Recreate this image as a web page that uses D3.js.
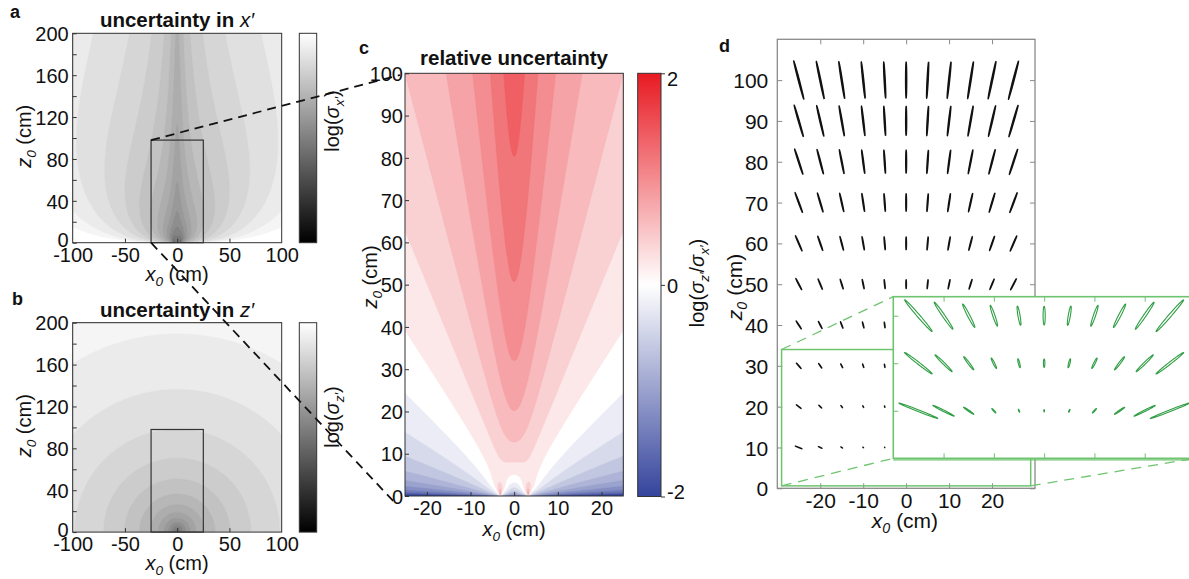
<!DOCTYPE html>
<html><head><meta charset="utf-8">
<script src="https://cdn.jsdelivr.net/npm/d3@7"></script>
<style>
body{margin:0;background:#fff}
svg{display:block}
text{font-family:"Liberation Sans",Arial,Helvetica,sans-serif;fill:#111}
</style>
</head><body>
<svg id="fig" width="1189" height="579"></svg>
<script>
// ---------------- data ----------------
const eyeX = [-3.2, 3.2];                 // eye positions (cm) on the z=0 line
const levelsAB = [-0.945,-0.66,-0.375,-0.09,0.195,0.48,0.765,1.05,1.335,1.62,1.905,2.19,2.475,2.76,3.045,3.33,3.615,3.90,4.185,4.47,4.755,5.04,5.325];
const levelsC = [-2,-1.8,-1.6,-1.4,-1.2,-1,-0.8,-0.6,-0.4,-0.2,0,0.2,0.4,0.6,0.8,1,1.2,1.4,1.6,1.8];
const grayDomain = [-2.9, 4.18];
const ratioDomain = [-2, 0, 2];
const ratioColors = ["#34449c", "#ffffff", "#e81a22"];
const rectAB = {x0:-25, x1:25, z0:0, z1:98};
const ticksABx = [-100,-50,0,50,100];
const ticksABxMarks = [-50,0,50];
const ticksABy = [0,20,40,60,80,100,120,140,160,180,200];
const labelsABy = [0,40,80,120,160,200];
const ticksCx = [-20,-10,0,10,20];
const ticksCy = [0,10,20,30,40,50,60,70,80,90,100];
const ticksCbar = [-2,0,2];
const ticksDx = [-20,-10,0,10,20];
const ticksDy = [0,10,20,30,40,50,60,70,80,90,100];
const ellipseX = [-25,-20,-15,-10,-5,0,5,10,15,20,25];
const ellipseZ = [10,20,30,40,50,60,70,80,90,100];
const insetZ = [10,20,30];
const insetTicksZ = [10,20,30];
const zoomRect = {x0:-29, x1:29, z0:0.6, z1:34};
const ellipseScaleMain = 0.002;
const ellipseScaleInset = 0.0098;

// ---------------- model ----------------
function covariance(x, z) {
  let a = 0, b = 0, c = 0;
  for (const e of eyeX) {
    const dx = x - e, r2 = dx*dx + z*z, r4 = r2*r2;
    a += z*z / r4; b += -z*dx / r4; c += dx*dx / r4;
  }
  const det = a*c - b*b;
  return {xx: c/det, zz: a/det, xz: -b/det};
}
function grid(x0, x1, z0, z1, h, f) {
  const nx = Math.round((x1-x0)/h), nz = Math.round((z1-z0)/h);
  const v = new Float64Array(nx*nz);
  for (let j = 0; j < nz; j++) {
    const z = z0 + (j+0.5)*h;
    for (let i = 0; i < nx; i++) {
      const x = x0 + (i+0.5)*h;
      let val = f(x, z);
      if (!isFinite(val)) val = 9;
      v[j*nx+i] = Math.max(-9, Math.min(9, val));
    }
  }
  return {nx, nz, v, x0, z0, h};
}
const logSx = (x,z) => Math.log10(Math.sqrt(covariance(x,z).xx));
const logSz = (x,z) => Math.log10(Math.sqrt(covariance(x,z).zz));
const logRatio = (x,z) => { const c = covariance(x,z); return 0.5*Math.log10(c.zz/c.xx); };

// ---------------- helpers ----------------
const svg = d3.select("#fig");
const defs = svg.append("defs");
const FS = 20;      // tick / label size
const FT = 20.5;    // title size
const fmt = d => String(d);   // plain hyphen-minus like the reference
const gray = d3.scaleLinear().domain(grayDomain).range(["#000","#fff"]).clamp(true);
const ratioColor = d3.scaleLinear().domain(ratioDomain).range(ratioColors).clamp(true);

let clipId = 0;
function clipRect(x, y, w, h) {
  const id = "clip" + (clipId++);
  defs.append("clipPath").attr("id", id).append("rect").attr("x", x).attr("y", y).attr("width", w).attr("height", h);
  return "url(#" + id + ")";
}
function drawField(g, fld, xS, yS, levels, color, baseColor) {
  const proj = d3.geoTransform({point(px, py) { this.stream.point(xS(fld.x0 + px*fld.h), yS(fld.z0 + py*fld.h)); }});
  const path = d3.geoPath(proj);
  const cs = d3.contours().size([fld.nx, fld.nz]).thresholds(levels)(fld.v);
  const [xa, xb] = xS.range(), [ya, yb] = yS.range();
  g.append("rect").attr("x", xa).attr("y", yb).attr("width", xb-xa).attr("height", ya-yb).attr("fill", baseColor);
  g.selectAll("path.band").data(cs.filter(c => c.coordinates.length)).join("path")
    .attr("class","band").attr("d", path)
    .attr("fill", d => color(d.value)).attr("stroke", d => color(d.value)).attr("stroke-width", 0.4);
}
function subLabel(t, main, sub, rest, fs) {
  t.append("tspan").text(main).attr("font-style","italic");
  t.append("tspan").text(sub).attr("font-style","italic").attr("font-size", fs*0.68).attr("dy", 5);
  t.append("tspan").text(rest).attr("dy", -5);
}
function axisLabelX(x, y, fs) {
  fs = fs || FS;
  const t = svg.append("text").attr("x", x).attr("y", y).attr("text-anchor","middle").attr("font-size", fs);
  subLabel(t, "x", "0", " (cm)", fs);
}
function axisLabelY(x, y, fs) {
  fs = fs || FS;
  const t = svg.append("text").attr("transform", `translate(${x},${y}) rotate(-90)`).attr("text-anchor","middle").attr("font-size", fs);
  subLabel(t, "z", "0", " (cm)", fs);
}
function panelLetter(s, x, y) {
  svg.append("text").attr("x", x).attr("y", y).attr("font-size", 18).attr("font-weight","bold").text(s);
}
function styleAxis(g, color, fs, textColor) {
  g.select(".domain").remove();
  g.selectAll(".tick line").attr("stroke", color);
  g.selectAll(".tick text").attr("font-size", fs).attr("font-family", '"Liberation Sans",Arial,Helvetica,sans-serif')
    .attr("fill", textColor || "#111");
}

// ---------------- panels a and b ----------------
function panelAB(top, fn, sym, cbarLabelY) {
  const xS = d3.scaleLinear().domain([-100,100]).range([72.7, 281.7]);
  const yS = d3.scaleLinear().domain([0,200]).range([top+209.4, top]);
  const fld = grid(-100, 100, 0, 200, 0.5, fn);
  const g = svg.append("g").attr("clip-path", clipRect(72.7, top, 209, 209.4));
  drawField(g, fld, xS, yS, levelsAB, gray, gray(levelsAB[0]));
  svg.append("rect").attr("x", xS(rectAB.x0)).attr("y", yS(rectAB.z1))
    .attr("width", xS(rectAB.x1)-xS(rectAB.x0)).attr("height", yS(rectAB.z0)-yS(rectAB.z1))
    .attr("fill","none").attr("stroke","#333").attr("stroke-width",1.2);
  const ax = svg.append("g").attr("transform", `translate(0,${top+209.4})`)
    .call(d3.axisBottom(xS).tickValues(ticksABx).tickSize(0).tickPadding(5).tickFormat(fmt));
  styleAxis(ax, "#333", FS);
  svg.append("g").attr("transform", `translate(0,${top+209.4})`)
    .call(d3.axisBottom(xS).tickValues(ticksABxMarks).tickSize(-4).tickFormat(""))
    .call(g2 => { g2.select(".domain").remove(); g2.selectAll("line").attr("stroke","#333"); });
  const ay = svg.append("g").attr("transform", `translate(72.7,0)`)
    .call(d3.axisLeft(yS).tickValues(ticksABy).tickSize(-4).tickPadding(4)
      .tickFormat(d => labelsABy.includes(d) ? fmt(d) : ""));
  styleAxis(ay, "#333", FS);
  ay.selectAll(".tick text").attr("dy", d => d === 0 ? "0.2em" : "0.36em");
  svg.append("rect").attr("x", 72.7).attr("y", top).attr("width", 209).attr("height", 209.4)
    .attr("fill","none").attr("stroke","#333").attr("stroke-width",1);
  // colorbar
  const gid = "gg" + top.toFixed(0);
  const lg = defs.append("linearGradient").attr("id", gid).attr("x1",0).attr("y1",1).attr("x2",0).attr("y2",0);
  lg.append("stop").attr("offset","0%").attr("stop-color","#000");
  lg.append("stop").attr("offset","100%").attr("stop-color","#fff");
  svg.append("rect").attr("x", 299.3).attr("y", top).attr("width", 17.4).attr("height", 209.4)
    .attr("fill", `url(#${gid})`).attr("stroke","#333").attr("stroke-width",1);
  const cl = svg.append("text").attr("transform", `translate(339,${cbarLabelY}) rotate(-90)`)
    .attr("text-anchor","middle").attr("font-size", FS);
  cl.append("tspan").text("log(");
  cl.append("tspan").text("σ").attr("font-style","italic");
  cl.append("tspan").text(sym + "′").attr("font-style","italic").attr("font-size", FS*0.68).attr("dy", 5);
  cl.append("tspan").text(")").attr("dy", -5);
  const tt = svg.append("text").attr("x", 177).attr("y", top-6).attr("text-anchor","middle")
    .attr("font-size", FT).attr("font-weight","bold");
  tt.append("tspan").text("uncertainty in ");
  tt.append("tspan").text(sym + "′").attr("font-style","italic").attr("font-weight","normal");
  axisLabelX(177, top+247.5);
  axisLabelY(31, top+103);
  return {xS, yS};
}
const A = panelAB(33.3, logSx, "x", 121);
const B = panelAB(322.7, logSz, "z", 417);
panelLetter("a", 10, 18);
panelLetter("b", 12, 305);

// ---------------- panel c ----------------
{
  const xS = d3.scaleLinear().domain([-25,25]).range([405, 623.3]);
  const yS = d3.scaleLinear().domain([0,100]).range([496, 73.3]);
  const fld = grid(-25, 25, 0, 100, 0.1, logRatio);
  const g = svg.append("g").attr("clip-path", clipRect(405, 73.3, 218.3, 422.7));
  drawField(g, fld, xS, yS, levelsC, ratioColor, ratioColor(-2));
  const ax = svg.append("g").attr("transform", "translate(0,496)")
    .call(d3.axisBottom(xS).tickValues(ticksCx).tickSize(-4).tickPadding(5).tickFormat(fmt));
  styleAxis(ax, "#333", FS);
  ax.selectAll(".tick text").attr("dy","0.71em");
  const ay = svg.append("g").attr("transform", "translate(405,0)")
    .call(d3.axisLeft(yS).tickValues(ticksCy).tickSize(-4).tickPadding(2).tickFormat(fmt));
  styleAxis(ay, "#333", FS);
  ay.selectAll(".tick text").attr("dy","0.36em");
  svg.append("rect").attr("x",405).attr("y",73.3).attr("width",218.3).attr("height",422.7)
    .attr("fill","none").attr("stroke","#333");
  // colorbar
  const cS = d3.scaleLinear().domain([-2,2]).range([496.5, 73.3]);
  const lg = defs.append("linearGradient").attr("id","gc").attr("x1",0).attr("y1",1).attr("x2",0).attr("y2",0);
  ratioDomain.forEach((v,i) => lg.append("stop").attr("offset", (i*50)+"%").attr("stop-color", ratioColors[i]));
  svg.append("rect").attr("x",637.7).attr("y",73.3).attr("width",23.3).attr("height",423.2)
    .attr("fill","url(#gc)").attr("stroke","#333");
  const cb = svg.append("g").attr("transform","translate(661,0)")
    .call(d3.axisRight(cS).tickValues(ticksCbar).tickSize(4).tickPadding(2).tickFormat(fmt));
  styleAxis(cb, "#333", FS);
  cb.selectAll(".tick text").attr("dy", d => d === 2 ? "0.62em" : d === -2 ? "0.1em" : "0.36em");
  const cl = svg.append("text").attr("transform","translate(704,283) rotate(-90)")
    .attr("text-anchor","middle").attr("font-size",FS);
  cl.append("tspan").text("log(");
  cl.append("tspan").text("σ").attr("font-style","italic");
  cl.append("tspan").text("z′").attr("font-style","italic").attr("font-size",FS*0.68).attr("dy",5);
  cl.append("tspan").text("/").attr("dy",-5);
  cl.append("tspan").text("σ").attr("font-style","italic");
  cl.append("tspan").text("x′").attr("font-style","italic").attr("font-size",FS*0.68).attr("dy",5);
  cl.append("tspan").text(")").attr("dy",-5);
  svg.append("text").attr("x",514).attr("y",65).attr("text-anchor","middle")
    .attr("font-size",FT).attr("font-weight","bold").text("relative uncertainty");
  axisLabelX(514, 536);
  axisLabelY(377, 277);
  panelLetter("c", 359, 54);
}

// ---------------- dashed connectors a -> c ----------------
svg.append("line").attr("x1", A.xS(rectAB.x0)).attr("y1", A.yS(rectAB.z1)).attr("x2", 400).attr("y2", 75)
  .attr("stroke","#111").attr("stroke-width",1.8).attr("stroke-dasharray","9,6");
svg.append("line").attr("x1", A.xS(rectAB.x0)).attr("y1", A.yS(rectAB.z0)).attr("x2", 396).attr("y2", 504)
  .attr("stroke","#111").attr("stroke-width",1.8).attr("stroke-dasharray","9,6");

// ---------------- panel d ----------------
{
  const FD = 21;
  const xS = d3.scaleLinear().domain([-30,30]).range([777.3, 1035]);
  const yS = d3.scaleLinear().domain([0,110]).range([488.3, 39.3]);
  const frame = "#8a8a8a";
  const line = d3.line().x(d => xS(d[0])).y(d => yS(d[1]));
  function ellipse(cx, cz, k) {
    const C = covariance(cx, cz);
    const tr = C.xx + C.zz, det = C.xx*C.zz - C.xz*C.xz;
    const disc = Math.sqrt(Math.max(0, tr*tr/4 - det));
    const l1 = tr/2 + disc, l2 = Math.max(0, det/l1);
    const th = 0.5*Math.atan2(2*C.xz, C.xx - C.zz);
    const a = k*Math.sqrt(l1), b = k*Math.sqrt(l2);
    return d3.range(0, 97).map(i => {
      const t = i/96*2*Math.PI, u = a*Math.cos(t), v = b*Math.sin(t);
      return [cx + u*Math.cos(th) - v*Math.sin(th), cz + u*Math.sin(th) + v*Math.cos(th)];
    });
  }
  const pts = [];
  ellipseZ.forEach(z => ellipseX.forEach(x => pts.push([x, z])));
  svg.append("g").selectAll("path").data(pts).join("path")
    .attr("d", d => line(ellipse(d[0], d[1], ellipseScaleMain)))
    .attr("fill","#111").attr("stroke","#111").attr("stroke-width",1.3);
  const ax = svg.append("g").attr("transform","translate(0,488.3)")
    .call(d3.axisBottom(xS).tickValues(ticksDx).tickSize(-5).tickPadding(5).tickFormat(fmt));
  styleAxis(ax, frame, FD, "#444");
  ax.selectAll(".tick text").attr("dy","0.71em");
  svg.append("g").attr("transform","translate(0,39.3)")
    .call(d3.axisTop(xS).tickValues(ticksDx).tickSize(-5).tickFormat(""))
    .call(g2 => { g2.select(".domain").remove(); g2.selectAll("line").attr("stroke",frame); });
  const ay = svg.append("g").attr("transform","translate(777.3,0)")
    .call(d3.axisLeft(yS).tickValues(ticksDy).tickSize(-5).tickPadding(9).tickFormat(fmt));
  styleAxis(ay, frame, FD, "#444");
  ay.selectAll(".tick text").attr("dy","0.36em");
  svg.append("g").attr("transform","translate(1035,0)")
    .call(d3.axisRight(yS).tickValues(ticksDy).tickSize(-5).tickFormat(""))
    .call(g2 => { g2.select(".domain").remove(); g2.selectAll("line").attr("stroke",frame); });
  svg.append("rect").attr("x",777.3).attr("y",39.3).attr("width",257.7).attr("height",449)
    .attr("fill","none").attr("stroke",frame).attr("stroke-width",1.3);
  axisLabelX(905, 528, FD);
  axisLabelY(742, 287, FD);
  panelLetter("d", 719, 52);

  // zoom rectangle + connectors
  const ins = {x0: 893.3, x1: 1195, y0: 296.7, y1: 458.3};
  const green = "#6fc46f";
  const rx0 = xS(zoomRect.x0), rx1 = xS(zoomRect.x1), ry0 = yS(zoomRect.z1), ry1 = yS(zoomRect.z0);
  svg.append("rect").attr("x", rx0).attr("y", ry0).attr("width", rx1-rx0).attr("height", ry1-ry0)
    .attr("fill","none").attr("stroke",green).attr("stroke-width",1.5);
  [[rx0, ry0, ins.x0, ins.y0], [rx0, ry1, ins.x0, ins.y1], [rx1, ry1, ins.x1, ins.y1]].forEach(s =>
    svg.append("line").attr("x1",s[0]).attr("y1",s[1]).attr("x2",s[2]).attr("y2",s[3])
      .attr("stroke",green).attr("stroke-width",1.3).attr("stroke-dasharray","10,7"));

  // inset
  const xI = d3.scaleLinear().domain([-30,30]).range([ins.x0, ins.x1]);
  const yI = d3.scaleLinear().domain([0,34]).range([ins.y1, ins.y0]);
  const lineI = d3.line().x(d => xI(d[0])).y(d => yI(d[1]));
  svg.append("rect").attr("x", ins.x0).attr("y", ins.y0).attr("width", ins.x1-ins.x0).attr("height", ins.y1-ins.y0)
    .attr("fill","#fff");
  const ipts = [];
  insetZ.forEach(z => ellipseX.forEach(x => ipts.push([x, z])));
  svg.append("g").attr("clip-path", clipRect(ins.x0, ins.y0, ins.x1-ins.x0, ins.y1-ins.y0))
    .selectAll("path").data(ipts).join("path")
    .attr("d", d => lineI(ellipse(d[0], d[1], ellipseScaleInset)))
    .attr("fill","none").attr("stroke","#2f9e44").attr("stroke-width",1.1);
  const gi = svg.append("g");
  gi.append("g").attr("transform",`translate(0,${ins.y0})`)
    .call(d3.axisTop(xI).tickValues(ticksDx).tickSize(-5).tickFormat(""));
  gi.append("g").attr("transform",`translate(0,${ins.y1})`)
    .call(d3.axisBottom(xI).tickValues(ticksDx).tickSize(-5).tickFormat(""));
  gi.append("g").attr("transform",`translate(${ins.x0},0)`)
    .call(d3.axisLeft(yI).tickValues(insetTicksZ).tickSize(-5).tickFormat(""));
  gi.selectAll(".domain").remove();
  gi.selectAll("line").attr("stroke", green);
  svg.append("rect").attr("x", ins.x0).attr("y", ins.y0).attr("width", ins.x1-ins.x0).attr("height", ins.y1-ins.y0)
    .attr("fill","none").attr("stroke",green).attr("stroke-width",1.6);
  svg.append("line").attr("x1",ins.x0).attr("x2",ins.x1).attr("y1",ins.y1+1.6).attr("y2",ins.y1+1.6)
    .attr("stroke",green).attr("stroke-width",1.2);
}
</script>
</body></html>
